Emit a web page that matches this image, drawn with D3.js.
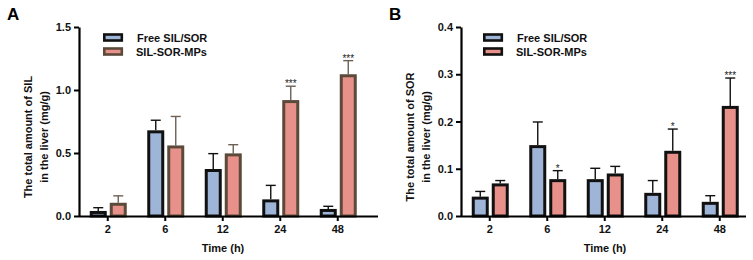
<!DOCTYPE html>
<html>
<head>
<meta charset="utf-8">
<script src="https://cdn.jsdelivr.net/npm/d3@7"></script>
<style>
  body { margin: 0; background: #fff; }
  svg text { font-family: "Liberation Sans", Arial, sans-serif; font-weight: bold; }
</style>
</head>
<body>
<svg id="chart" width="753" height="260"></svg>
<script>
// time points (h)
const times = ["2", "6", "12", "24", "48"];
const seriesNames = ["Free SIL/SOR", "SIL-SOR-MPs"];

// panel A - SIL
const silFree = [0.04, 0.68, 0.373, 0.132, 0.056];
const silFreeErr = [0.026, 0.08, 0.122, 0.111, 0.021];
const silMPs = [0.105, 0.56, 0.497, 0.92, 1.125];
const silMPsErr = [0.055, 0.23, 0.069, 0.11, 0.108];
const silStars = ["", "", "", "***", "***"];
const silTicks = [0, 0.5, 1.0, 1.5];

// panel B - SOR
const sorFree = [0.041, 0.15, 0.078, 0.049, 0.030];
const sorFreeErr = [0.011, 0.049, 0.023, 0.026, 0.013];
const sorMPs = [0.069, 0.078, 0.09, 0.138, 0.233];
const sorMPsErr = [0.006, 0.018, 0.015, 0.046, 0.059];
const sorStars = ["", "*", "", "*", "***"];
const sorTicks = [0, 0.1, 0.2, 0.3, 0.4];

const blueFill = "#9fb5d8";
const redFill = "#e8918a";

const svg = d3.select("#chart");

function drawPanel(opts) {
    const g = svg.append("g");
    const top = 27, bottom = 216;

    const x = d3.scaleBand()
        .domain(times)
        .range([opts.left, opts.left + 287.5])
        .paddingInner(0)
        .paddingOuter(0);

    const y = d3.scaleLinear()
        .domain([0, opts.yMax])
        .range([bottom, top]);

    const barW = 17, gap = 3;

    const groups = [
        { vals: opts.free, errs: opts.freeErr, fill: blueFill, stroke: "#111", errColor: "#111", off: -barW - gap / 2 + 0.5 },
        { vals: opts.mps, errs: opts.mpsErr, fill: redFill, stroke: opts.redStroke, errColor: opts.redErr, off: gap / 2 + 0.5 }
    ];

    groups.forEach((s, si) => {
        const cx = i => x(times[i]) + x.bandwidth() / 2 + s.off;

        // error bars (up only)
        const eg = g.append("g").attr("stroke", s.errColor).attr("stroke-width", 1.4);
        s.vals.forEach((v, i) => {
            const mx = cx(i) + barW / 2;
            eg.append("line")
                .attr("x1", mx).attr("x2", mx)
                .attr("y1", y(v)).attr("y2", y(v + s.errs[i]));
            eg.append("line")
                .attr("x1", mx - 5).attr("x2", mx + 5)
                .attr("y1", y(v + s.errs[i])).attr("y2", y(v + s.errs[i]));
        });

        // bars
        g.append("g").selectAll("rect")
            .data(s.vals)
            .enter()
            .append("rect")
            .attr("x", (d, i) => cx(i) + 1.5)
            .attr("width", barW - 3)
            .attr("y", d => y(d) + 1.5)
            .attr("height", d => Math.max(0, y(0) - y(d) - 1.5))
            .attr("fill", s.fill)
            .attr("stroke", s.stroke)
            .attr("stroke-width", 3);

        if (si === 1) {
            g.append("g").selectAll("text")
                .data(opts.stars)
                .enter()
                .append("text")
                .attr("x", (d, i) => cx(i) + barW / 2)
                .attr("y", (d, i) => y(s.vals[i] + s.errs[i]) + 1)
                .attr("text-anchor", "middle")
                .style("font-size", "10px")
                .style("font-weight", "normal")
                .attr("fill", "#222")
                .text(d => d);
        }
    });

    // y axis
    const yAxis = g.append("g")
        .attr("transform", `translate(${opts.left}, 0)`)
        .call(d3.axisLeft(y).tickValues(opts.ticks).tickFormat(d3.format(".1f")).tickSize(5).tickSizeOuter(0));
    yAxis.select(".domain").attr("stroke", "#000").attr("stroke-width", 2.2);
    yAxis.selectAll(".tick line").attr("stroke", "#000").attr("stroke-width", 2);
    yAxis.selectAll(".tick text").style("font-size", "11px").attr("fill", "#111").attr("x", -8);

    // x axis
    const xAxis = g.append("g")
        .attr("transform", `translate(0, ${bottom})`)
        .call(d3.axisBottom(x).tickSize(5).tickSizeOuter(0));
    xAxis.select(".domain")
        .attr("d", `M${opts.left},0.5H${opts.axisEnd}`)
        .attr("stroke", "#000").attr("stroke-width", 2.2);
    xAxis.selectAll(".tick line").attr("stroke", "#000").attr("stroke-width", 2);
    xAxis.selectAll(".tick text").style("font-size", "11px").attr("fill", "#111").attr("y", 9);

    // x axis title
    g.append("text")
        .attr("x", opts.left + 144)
        .attr("y", 252)
        .attr("text-anchor", "middle")
        .style("font-size", "11px")
        .attr("fill", "#111")
        .text("Time (h)");

    // y axis title (two lines)
    const midY = 137;
    opts.yTitle.forEach((line, i) => {
        g.append("text")
            .attr("transform", `translate(${opts.left - 47 + i * 16}, ${midY}) rotate(-90)`)
            .attr("text-anchor", "middle")
            .style("font-size", "11px")
            .attr("fill", "#111")
            .text(line);
    });

    // panel letter
    g.append("text")
        .attr("x", opts.letterX)
        .attr("y", 20)
        .style("font-size", "17px")
        .attr("fill", "#000")
        .text(opts.letter);

    // legend
    const lg = g.append("g");
    const legendStroke = [ "#111", opts.redStroke ];
    [blueFill, redFill].forEach((c, i) => {
        lg.append("rect")
            .attr("x", opts.legendX + 1.3)
            .attr("y", 34.5 + i * 14)
            .attr("width", 17.5)
            .attr("height", 6)
            .attr("fill", c)
            .attr("stroke", legendStroke[i])
            .attr("stroke-width", 2.6);
        lg.append("text")
            .attr("x", opts.legendX + 34 - (i * 1))
            .attr("y", 42 + i * 14)
            .style("font-size", "11px")
            .attr("fill", "#111")
            .text(seriesNames[i]);
    });
}

drawPanel({
    left: 79, axisEnd: 378, yMax: 1.5, ticks: silTicks,
    free: silFree, freeErr: silFreeErr, mps: silMPs, mpsErr: silMPsErr, stars: silStars,
    redStroke: "#5b4a3a", redErr: "#6e6055",
    yTitle: ["The total amount of SIL", "in the liver (mg/g)"],
    letter: "A", letterX: 7, legendX: 103
});

drawPanel({
    left: 461, axisEnd: 746, yMax: 0.4, ticks: sorTicks,
    free: sorFree, freeErr: sorFreeErr, mps: sorMPs, mpsErr: sorMPsErr, stars: sorStars,
    redStroke: "#111", redErr: "#111",
    yTitle: ["The total amount of SOR", "in the liver (mg/g)"],
    letter: "B", letterX: 389, legendX: 483
});
</script>
</body>
</html>
